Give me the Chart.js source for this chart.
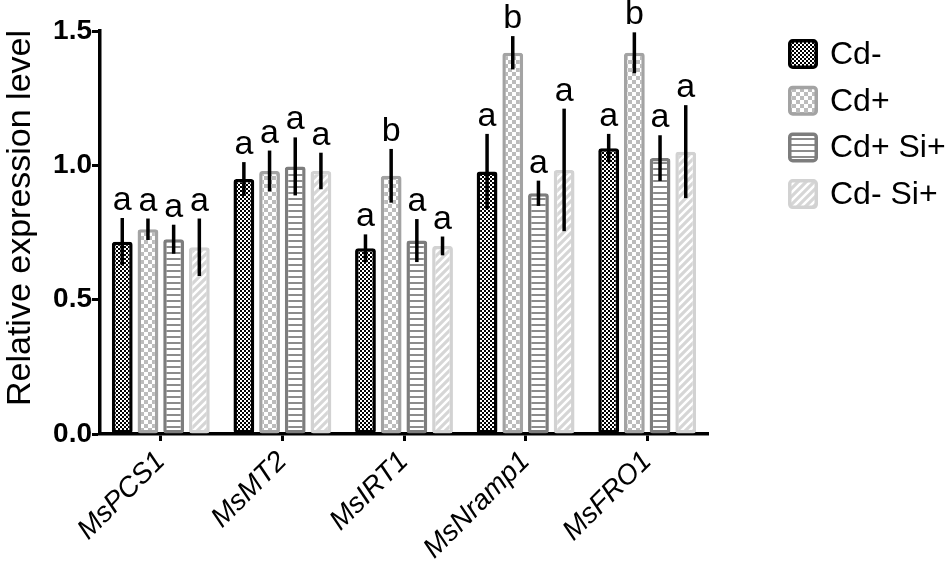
<!DOCTYPE html>
<html>
<head>
<meta charset="utf-8">
<script src="https://cdn.jsdelivr.net/npm/chart.js@4"></script>
<style>
  html, body { margin: 0; padding: 0; background: #fff; }
  #wrap { width: 950px; height: 564px; position: relative; }
</style>
</head>
<body>
<div id="wrap"><canvas id="exprChart"></canvas></div>
<script>
// genes on the x axis
const genes = ['MsPCS1', 'MsMT2', 'MsIRT1', 'MsNramp1', 'MsFRO1'];
const groupNames = ['Cd-', 'Cd+', 'Cd+ Si+', 'Cd- Si+'];
const yTitle = 'Relative expression level';

// mean relative expression
const cdMinus     = [0.716, 0.949, 0.691, 0.977, 1.064];
const cdPlus      = [0.762, 0.979, 0.961, 1.419, 1.419];
const cdPlusSi    = [0.725, 0.996, 0.720, 0.896, 1.027];
const cdMinusSi   = [0.695, 0.979, 0.700, 0.983, 1.051];

// error (half length of the bar)
const cdMinusErr   = [0.088, 0.063, 0.052, 0.140, 0.053];
const cdPlusErr    = [0.040, 0.076, 0.100, 0.062, 0.076];
const cdPlusSiErr  = [0.054, 0.108, 0.080, 0.047, 0.085];
const cdMinusSiErr = [0.107, 0.068, 0.035, 0.228, 0.173];

// significance letters
const cdMinusLet   = ['a', 'a', 'a', 'a', 'a'];
const cdPlusLet    = ['a', 'a', 'b', 'b', 'b'];
const cdPlusSiLet  = ['a', 'a', 'a', 'a', 'a'];
const cdMinusSiLet = ['a', 'a', 'a', 'a', 'a'];

const yTicks = [0, 0.5, 1.0, 1.5];

const FONT = '"Liberation Sans", Arial, Helvetica, sans-serif';

// --- fill patterns ---
function makePattern(size, draw) {
    const c = document.createElement('canvas');
    c.width = size; c.height = size;
    const g = c.getContext('2d');
    draw(g, size);
    return g.createPattern(c, 'repeat');
}

const fineChecker = makePattern(4, function(g) {
    g.fillStyle = '#000';
    g.fillRect(0, 0, 4, 4);
    g.fillStyle = '#fff';
    g.fillRect(0, 0, 2, 2);
    g.fillRect(2, 2, 2, 2);
});

const bigChecker = makePattern(8, function(g) {
    g.fillStyle = '#fff';
    g.fillRect(0, 0, 8, 8);
    g.fillStyle = '#bcbcbc';
    g.fillRect(0, 0, 4, 4);
    g.fillRect(4, 4, 4, 4);
});

const hLines = makePattern(6, function(g) {
    g.fillStyle = '#fff';
    g.fillRect(0, 0, 6, 6);
    g.fillStyle = '#8c8c8c';
    g.fillRect(0, 0, 6, 2);
});

const diagLines = makePattern(8, function(g) {
    g.fillStyle = '#d6d6d6';
    g.fillRect(0, 0, 8, 8);
    g.strokeStyle = '#fff';
    g.lineWidth = 2.5;
    g.beginPath();
    g.moveTo(-1, 9); g.lineTo(9, -1);
    g.moveTo(-5, 5); g.lineTo(5, -5);
    g.moveTo(3, 13); g.lineTo(13, 3);
    g.stroke();
});

const fills   = [fineChecker, bigChecker, hLines, diagLines];
const borders = ['#000000', '#a3a3a3', '#7d7d7d', '#d2d2d2'];
const values  = [cdMinus, cdPlus, cdPlusSi, cdMinusSi];
const errors  = [cdMinusErr, cdPlusErr, cdPlusSiErr, cdMinusSiErr];
const letters = [cdMinusLet, cdPlusLet, cdPlusSiLet, cdMinusSiLet];

const datasets = groupNames.map(function(name, i) {
    return {
        label: name,
        data: values[i],
        backgroundColor: fills[i],
        borderColor: borders[i],
        borderWidth: 3.5,
        borderRadius: 3,
        borderSkipped: false,
        categoryPercentage: 0.845,
        barPercentage: 0.81
    };
});

// error bars + letters
const errorBarPlugin = {
    id: 'errorBars',
    afterDatasetsDraw(chart) {
        const ctx = chart.ctx;
        const y = chart.scales.y;
        ctx.save();
        ctx.strokeStyle = '#000';
        ctx.lineWidth = 3.5;
        ctx.fillStyle = '#000';
        ctx.font = '34px ' + FONT;
        ctx.textAlign = 'center';
        ctx.textBaseline = 'alphabetic';
        chart.data.datasets.forEach(function(ds, i) {
            const meta = chart.getDatasetMeta(i);
            meta.data.forEach(function(bar, j) {
                const v = values[i][j], e = errors[i][j];
                const top = y.getPixelForValue(v + e);
                const bot = y.getPixelForValue(v - e);
                ctx.beginPath();
                ctx.moveTo(bar.x, top);
                ctx.lineTo(bar.x, bot);
                ctx.stroke();
                ctx.fillText(letters[i][j], bar.x, top - 8);
            });
        });
        ctx.restore();
    }
};

// legend on the right and the y title
const legendPlugin = {
    id: 'sideLegend',
    afterDraw(chart) {
        const ctx = chart.ctx;
        ctx.save();
        const bx = 788, size = 30;
        groupNames.forEach(function(name, i) {
            const cy = 54 + i * 46.7;
            ctx.beginPath();
            ctx.roundRect(bx + 1.75, cy - size / 2 + 1.75, size - 3.5, size - 3.5, 3);
            ctx.fillStyle = fills[i];
            ctx.fill();
            ctx.lineWidth = 3.5;
            ctx.strokeStyle = borders[i];
            ctx.stroke();
            ctx.fillStyle = '#000';
            ctx.font = '32px ' + FONT;
            ctx.textAlign = 'left';
            ctx.textBaseline = 'middle';
            ctx.fillText(name, 830, cy + 1);
        });
        // y axis title
        ctx.translate(21, 218);
        ctx.rotate(-Math.PI / 2);
        ctx.fillStyle = '#000';
        ctx.font = '34px ' + FONT;
        ctx.textAlign = 'center';
        ctx.textBaseline = 'middle';
        ctx.fillText(yTitle, 0, 0);
        ctx.restore();
    }
};

new Chart(document.getElementById('exprChart'), {
    type: 'bar',
    data: {
        labels: genes,
        datasets: datasets
    },
    options: {
        responsive: true,
        maintainAspectRatio: false,
        animation: false,
        layout: {
            padding: { top: 31, right: 242, left: 0, bottom: 0 }
        },
        plugins: {
            legend: { display: false },
            tooltip: { enabled: false }
        },
        scales: {
            x: {
                offset: true,
                grid: {
                    drawOnChartArea: false,
                    offset: false,
                    tickLength: 7,
                    tickWidth: 3,
                    tickColor: '#000'
                },
                border: { color: '#000', width: 3.5 },
                ticks: {
                    color: '#000',
                    font: { family: FONT, size: 28, style: 'italic' },
                    minRotation: 45,
                    maxRotation: 45,
                    padding: 4
                },
                afterFit: function(scale) { scale.height = 130; }
            },
            y: {
                min: yTicks[0],
                max: yTicks[yTicks.length - 1],
                afterBuildTicks: function(scale) {
                    scale.ticks = yTicks.map(function(v) { return { value: v }; });
                },
                grid: {
                    drawOnChartArea: false,
                    tickLength: 8,
                    tickWidth: 3,
                    tickColor: '#000'
                },
                border: { color: '#000', width: 3.5 },
                ticks: {
                    color: '#000',
                    font: { family: FONT, size: 28, weight: 'bold' },
                    padding: 0,
                    callback: function(v) { return Number(v).toFixed(1); }
                },
                afterFit: function(scale) { scale.width = 100; }
            }
        }
    },
    plugins: [errorBarPlugin, legendPlugin]
});
</script>
</body>
</html>
